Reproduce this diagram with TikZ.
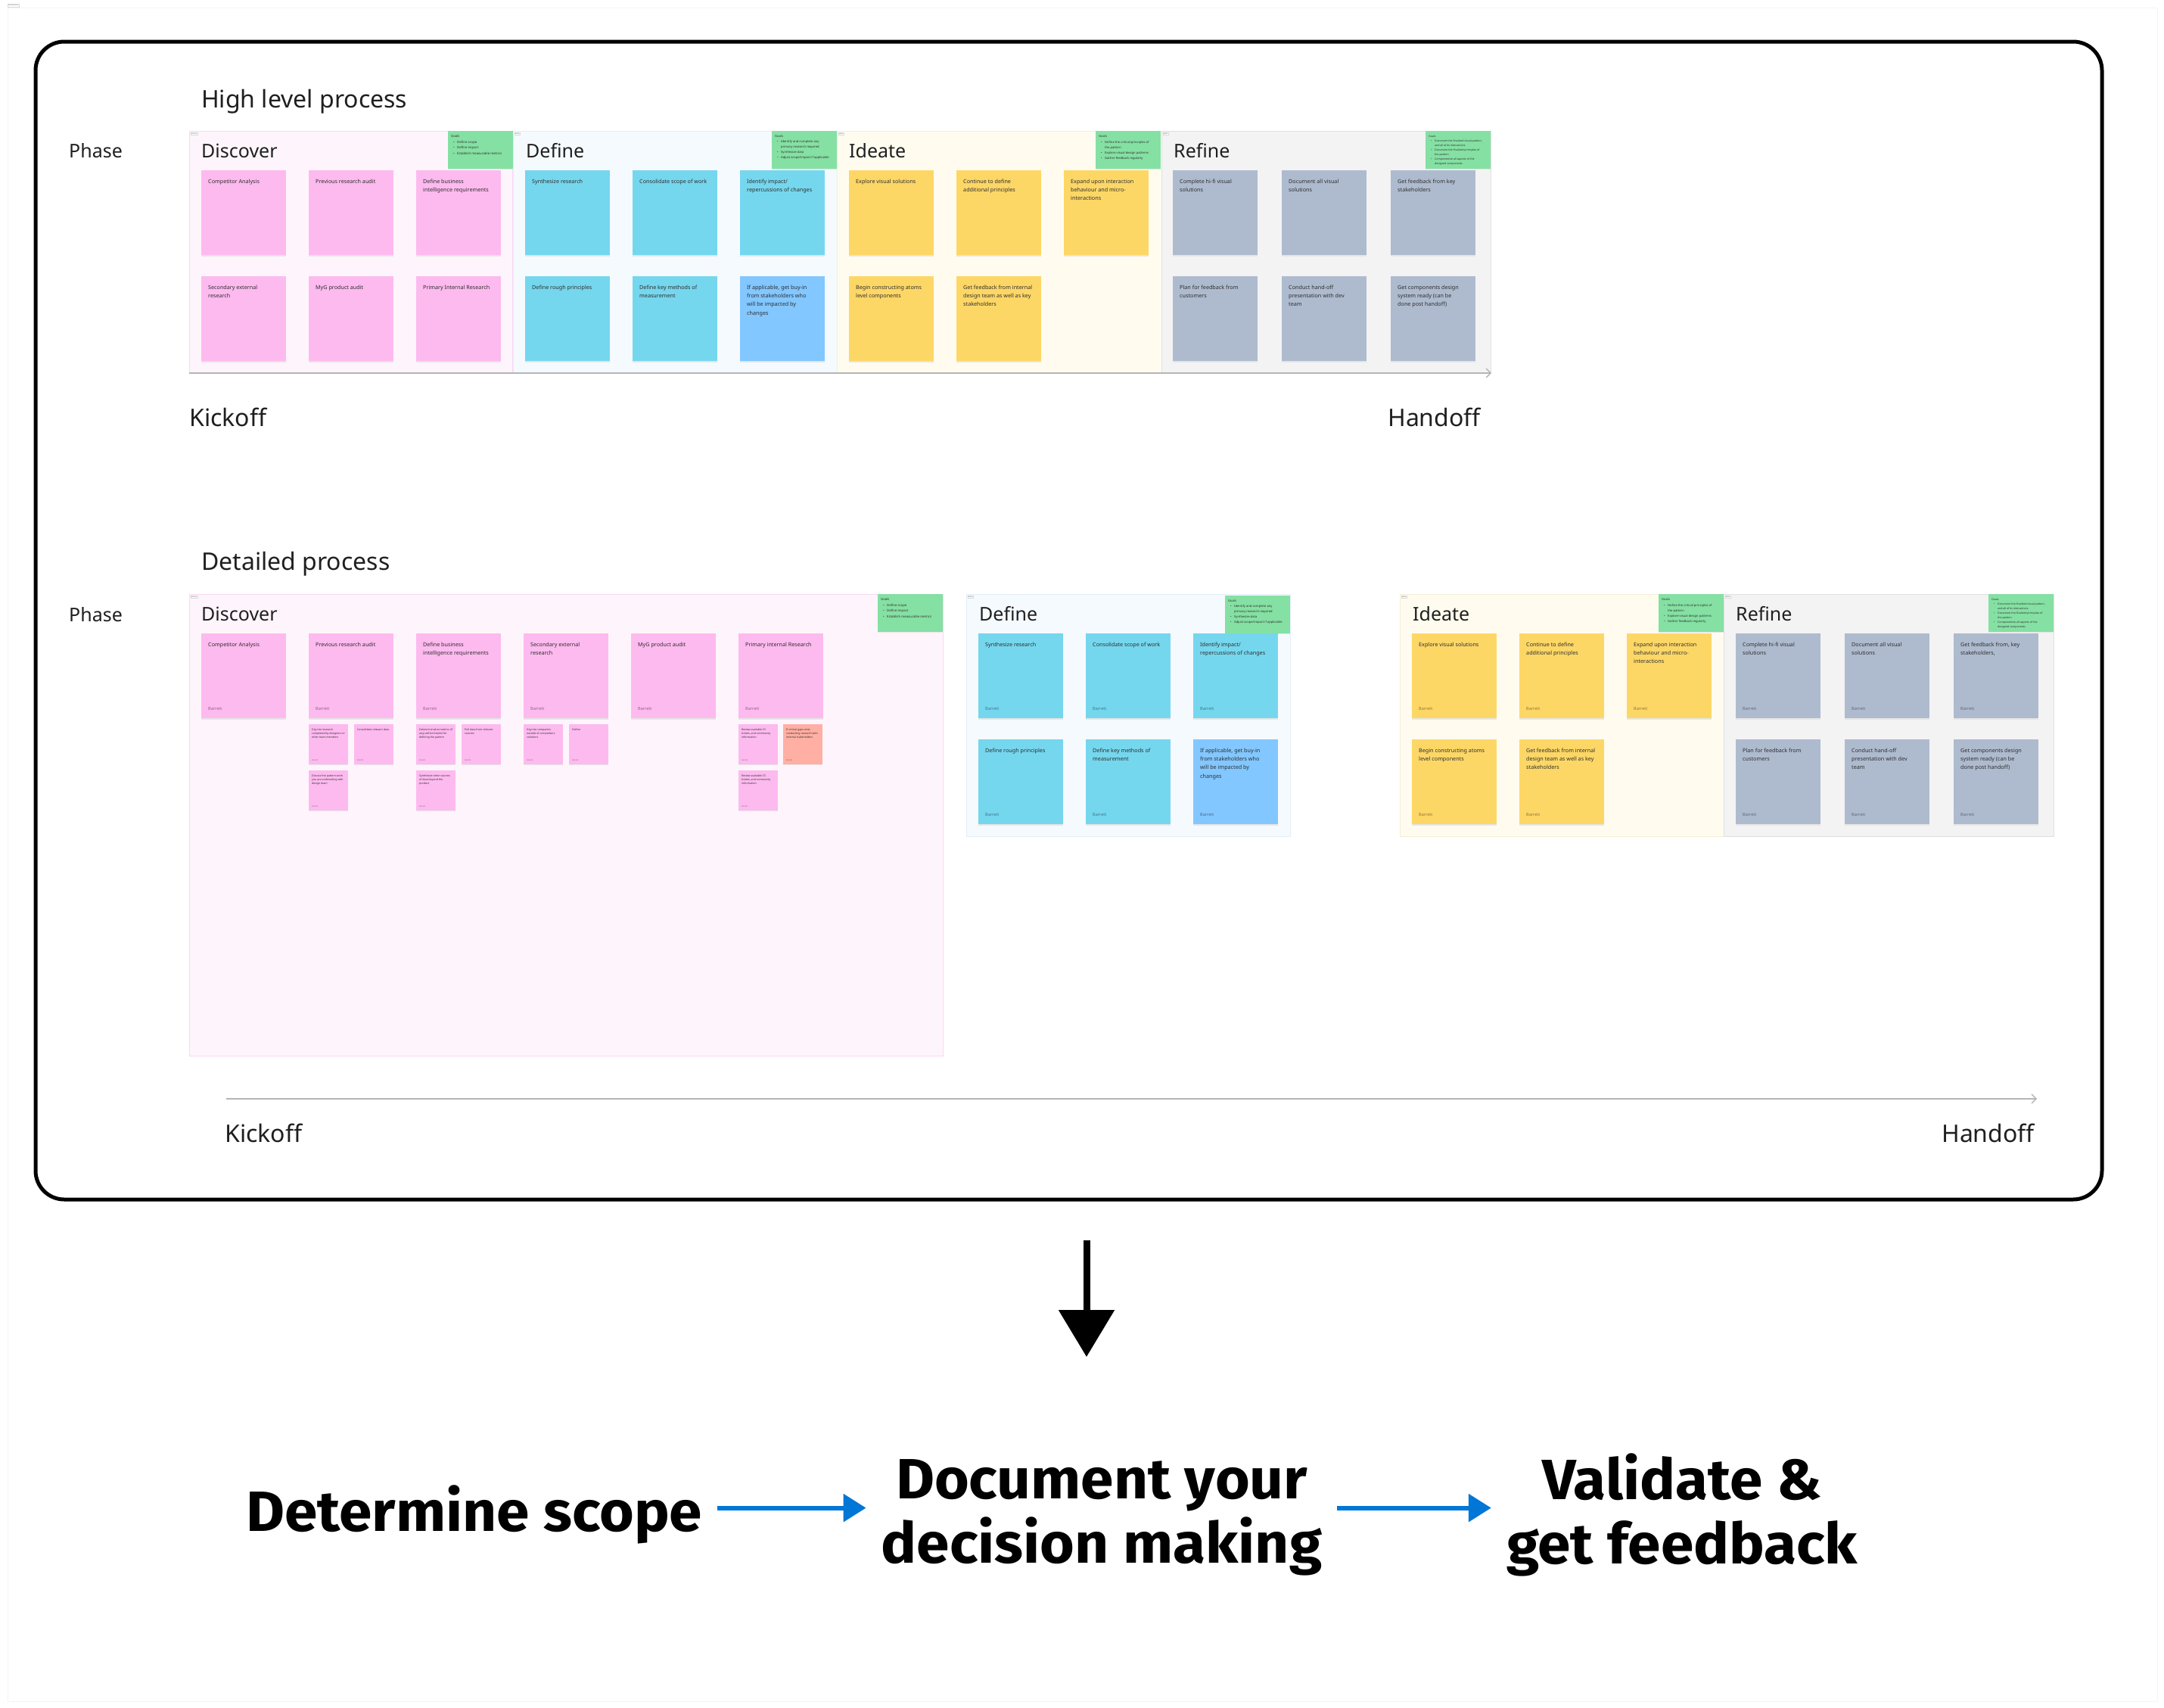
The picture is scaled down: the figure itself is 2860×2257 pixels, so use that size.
\documentclass[tikz,border=0pt]{standalone}
\usepackage{fontspec}
\setmainfont{Noto Sans}
\newfontfamily\flowfont[FakeStretch=1.045]{Fira Sans}
\usetikzlibrary{arrows.meta}

\definecolor{pinkbg}{HTML}{FEF5FC}
\definecolor{pinkline}{HTML}{F9D7F3}
\definecolor{bluebg}{HTML}{F5FAFE}
\definecolor{blueline}{HTML}{E3EEF8}
\definecolor{creambg}{HTML}{FFFCEF}
\definecolor{creamline}{HTML}{F4EFD8}
\definecolor{greybg}{HTML}{F3F3F3}
\definecolor{greyline}{HTML}{E0E0E0}
\definecolor{npink}{HTML}{FDBAEF}
\definecolor{nblue}{HTML}{75D7EE}
\definecolor{nsky}{HTML}{82C7FF}
\definecolor{nyellow}{HTML}{FDD766}
\definecolor{nslate}{HTML}{AEBBCF}
\definecolor{ngreen}{HTML}{85E0A3}
\definecolor{nsalmon}{HTML}{FFAFA3}
\definecolor{notetext}{HTML}{2E2E2E}
\definecolor{axisgrey}{HTML}{B5B5B5}
\definecolor{flowblue}{HTML}{0076D6}

\tikzset{
  stickbox/.style={rectangle, inner sep=0pt, minimum width=112pt, minimum height=112pt},
  minibox/.style={rectangle, inner sep=0pt, minimum width=52pt, minimum height=53pt},
  goalbox/.style={rectangle, inner sep=0pt, minimum width=86pt, minimum height=50pt, fill=ngreen},
  sticktext/.style={anchor=north west, inner sep=0pt, align=left, text=notetext, font=\fontsize{7.2}{11.3}\selectfont},
  minitext/.style={anchor=north west, inner sep=0pt, align=left, text=notetext, font=\fontsize{3.5}{5.3}\selectfont},
  signtext/.style={anchor=base west, inner sep=0pt, font=\fontsize{5.5}{6}\selectfont},
  minisign/.style={anchor=base west, inner sep=0pt, font=\fontsize{2.4}{3}\selectfont},
  goaltext/.style={anchor=north west, inner sep=0pt, align=left, text=notetext},
  phasetitle/.style={anchor=base west, inner sep=0pt, text=black!88, font=\fontsize{25}{30}\selectfont},
  sectiontitle/.style={anchor=base west, inner sep=0pt, text=black!88, font=\fontsize{32}{38}\selectfont},
  tab/.style={anchor=north west, fill=white, draw=black!15, line width=0.3pt, inner sep=0.8pt,
     text=black!60, font=\fontsize{1.8}{2}\selectfont},
  axis/.style={draw=axisgrey, line width=1.3pt, -{Straight Barb[length=6pt,width=12pt]}},
  flowtext/.style={inner sep=0pt, font=\flowfont\bfseries\fontsize{75}{85}\selectfont},
  flow/.style={draw=flowblue, line width=6pt, -{Triangle[length=30pt,width=36pt]}},
  downflow/.style={draw=black, line width=9pt, -{Triangle[length=62pt,width=72pt]}},
}

% sticky note: name, left, top, colour, text
\newcommand\bignote[5]{%
  \fill[black!10] (#2,#3+1.5) rectangle (#2+112,#3+113.5);
  \node[stickbox, fill=#4] (#1) at (#2+56,#3+56) {};
  \node[sticktext] (#1-txt) at (#2+9,#3+11.5) {#5};}
% author line at the foot of a sticky note
\newcommand\signed[4]{\node[signtext, text=#4!55!black] (#1-sig) at (#2+9,#3+101) {Barrett};}
% small sticky note: name, left, top, colour, text
\newcommand\smallnote[5]{%
  \fill[black!10] (#2,#3+1) rectangle (#2+52,#3+54);
  \node[minibox, fill=#4] (#1) at (#2+26,#3+26.5) {};
  \node[minitext] (#1-txt) at (#2+4,#3+5.5) {#5};
  \node[minisign, text=#4!55!black] (#1-sig) at (#2+4,#3+48) {Barrett};}
% goals card: name, left, top, font size, line skip, lines
\newcommand\goalnote[6]{%
  \fill[black!10] (#2,#3+1) rectangle (#2+86,#3+51);
  \node[goalbox] (#1) at (#2+43,#3+25) {};
  \node[goaltext, font=\fontsize{#4}{#5}\selectfont] (#1-txt) at (#2+4,#3+5.5) {\textbf{Goals}#6};}
\newcommand\gb{\\\hspace*{3pt}\makebox[5pt][l]{\textbullet}}
\newcommand\gc{\\\hspace*{8pt}}

\begin{document}
\begin{tikzpicture}[x=1pt,y=-1pt]
\useasboundingbox (0,0) rectangle (2860,2257);
\fill[white] (0,0) rectangle (2860,2257);

% canvas edge and its label
\draw[black!4, line width=0.8pt] (10,10) rectangle (2851,2248);
\node[tab, anchor=south west] (canvas-tab) at (10,9) {Overall process};

% outer frame
\draw[line width=5pt, rounded corners=38pt] (47,55) rectangle (2778,1585);

% ---------------- high level process ----------------
\node[sectiontitle] (hl-title) at (266,142) {High level process};
\node[phasetitle] (hl-phase) at (91,208) {Phase};

\filldraw[fill=pinkbg, draw=pinkline, line width=1pt] (250,173) rectangle (677,492);
\filldraw[fill=bluebg, draw=blueline, line width=1pt] (678,173) rectangle (1106,492);
\filldraw[fill=creambg, draw=creamline, line width=1pt] (1106,173) rectangle (1535,492);
\filldraw[fill=greybg, draw=greyline, line width=1pt] (1535,173) rectangle (1970,492);

\node[tab] (hl-dis-tab) at (252,175) {Discover};
\node[tab] (hl-def-tab) at (680,175) {Define};
\node[tab] (hl-ide-tab) at (1108,175) {Ideate};
\node[tab] (hl-ref-tab) at (1537,175) {Refine};

\node[phasetitle] (hl-dis) at (266,208) {Discover};
\node[phasetitle] (hl-def) at (695,208) {Define};
\node[phasetitle] (hl-ide) at (1122,208) {Ideate};
\node[phasetitle] (hl-ref) at (1551,208) {Refine};

\goalnote{hl-dis-goals}{592}{173}{4.3}{7.4}{\gb Define scope\gb Define impact\gb Establish measurable metrics}
\goalnote{hl-def-goals}{1020}{173}{4.1}{6.9}{\gb Identify and complete any\gc primary research required\gb Synthesize data\gb Adjust scope/impact if applicable}
\goalnote{hl-ide-goals}{1448}{173}{4.1}{7.2}{\gb Define the critical principles of\gc the pattern\gb Explore visual design patterns\gb Gather feedback regularly}
\goalnote{hl-ref-goals}{1884}{173}{3.5}{6.0}{\gb Document the finalized visual pattern,\gc and all of its interactions\gb Document the finalized principles of\gc the pattern\gb Componentize all aspects of the\gc designed components}

\bignote{hd1}{266}{225}{npink}{Competitor Analysis}
\bignote{hd2}{408}{225}{npink}{Previous research audit}
\bignote{hd3}{550}{225}{npink}{Define business\\intelligence requirements}
\bignote{hd4}{266}{365}{npink}{Secondary external\\research}
\bignote{hd5}{408}{365}{npink}{MyG product audit}
\bignote{hd6}{550}{365}{npink}{Primary Internal Research}

\bignote{hf1}{694}{225}{nblue}{Synthesize research}
\bignote{hf2}{836}{225}{nblue}{Consolidate scope of work}
\bignote{hf3}{978}{225}{nblue}{Identify impact/\\repercussions of changes}
\bignote{hf4}{694}{365}{nblue}{Define rough principles}
\bignote{hf5}{836}{365}{nblue}{Define key methods of\\measurement}
\bignote{hf6}{978}{365}{nsky}{If applicable, get buy-in\\from stakeholders who\\will be impacted by\\changes}

\bignote{hi1}{1122}{225}{nyellow}{Explore visual solutions}
\bignote{hi2}{1264}{225}{nyellow}{Continue to define\\additional principles}
\bignote{hi3}{1406}{225}{nyellow}{Expand upon interaction\\behaviour and micro-\\interactions}
\bignote{hi4}{1122}{365}{nyellow}{Begin constructing atoms\\level components}
\bignote{hi5}{1264}{365}{nyellow}{Get feedback from internal\\design team as well as key\\stakeholders}

\bignote{hr1}{1550}{225}{nslate}{Complete hi-fi visual\\solutions}
\bignote{hr2}{1694}{225}{nslate}{Document all visual\\solutions}
\bignote{hr3}{1838}{225}{nslate}{Get feedback from key\\stakeholders}
\bignote{hr4}{1550}{365}{nslate}{Plan for feedback from\\customers}
\bignote{hr5}{1694}{365}{nslate}{Conduct hand-off\\presentation with dev\\team}
\bignote{hr6}{1838}{365}{nslate}{Get components design\\system ready (can be\\done post handoff)}

\coordinate (hl-start) at (250,493);
\coordinate (hl-end) at (1971,493);
\draw[axis] (hl-start) -- (hl-end);
\node[sectiontitle] (hl-kick) at (250,563) {Kickoff};
\node[sectiontitle, anchor=base east] (hl-hand) at (1957,563) {Handoff};

% ---------------- detailed process ----------------
\node[sectiontitle] (dt-title) at (266,753) {Detailed process};
\node[phasetitle] (dt-phase) at (91,821) {Phase};

\filldraw[fill=pinkbg, draw=pinkline, line width=1pt] (250,785) rectangle (1246,1395);
\filldraw[fill=bluebg, draw=blueline, line width=1pt] (1277,785) rectangle (1705,1105);
\filldraw[fill=creambg, draw=creamline, line width=1pt] (1850,785) rectangle (2278,1105);
\filldraw[fill=greybg, draw=greyline, line width=1pt] (2278,785) rectangle (2714,1105);

\node[tab] (dt-dis-tab) at (252,787) {Discover};
\node[tab] (dt-def-tab) at (1279,787) {Define};
\node[tab] (dt-ide-tab) at (1852,787) {Ideate};
\node[tab] (dt-ref-tab) at (2280,787) {Refine};

\node[phasetitle] (dt-dis) at (266,820) {Discover};
\node[phasetitle] (dt-def) at (1294,820) {Define};
\node[phasetitle] (dt-ide) at (1867,820) {Ideate};
\node[phasetitle] (dt-ref) at (2294,820) {Refine};

\goalnote{dt-dis-goals}{1160}{785}{4.3}{7.4}{\gb Define scope\gb Define impact\gb Establish measurable metrics}
\goalnote{dt-def-goals}{1619}{787}{4.1}{6.9}{\gb Identify and complete any\gc primary research required\gb Synthesize data\gb Adjust scope/impact if applicable}
\goalnote{dt-ide-goals}{2192}{785}{4.1}{7.2}{\gb Define the critical principles of\gc the pattern\gb Explore visual design patterns\gb Gather feedback regularly}
\goalnote{dt-ref-goals}{2628}{785}{3.5}{6.0}{\gb Document the finalized visual pattern,\gc and all of its interactions\gb Document the finalized principles of\gc the pattern\gb Componentize all aspects of the\gc designed components}

\bignote{dd1}{266}{837}{npink}{Competitor Analysis}\signed{dd1}{266}{837}{npink}
\bignote{dd2}{408}{837}{npink}{Previous research audit}\signed{dd2}{408}{837}{npink}
\bignote{dd3}{550}{837}{npink}{Define business\\intelligence requirements}\signed{dd3}{550}{837}{npink}
\bignote{dd4}{692}{837}{npink}{Secondary external\\research}\signed{dd4}{692}{837}{npink}
\bignote{dd5}{834}{837}{npink}{MyG product audit}\signed{dd5}{834}{837}{npink}
\bignote{dd6}{976}{837}{npink}{Primary internal Research}\signed{dd6}{976}{837}{npink}

\smallnote{ds1}{408}{957}{npink}{Dig into research\\completed by designers or\\other team members}
\smallnote{ds2}{468}{957}{npink}{Consolidate relevant data}
\smallnote{ds3}{408}{1018}{npink}{Discuss the pattern work\\you are undertaking with\\design team}
\smallnote{ds4}{550}{957}{npink}{Determine what metrics (if\\any) will be helpful for\\defining the pattern}
\smallnote{ds5}{610}{957}{npink}{Pull data from relevant\\sources}
\smallnote{ds6}{550}{1018}{npink}{Synthesize other sources\\of data beyond the\\product}
\smallnote{ds7}{692}{957}{npink}{Dig into companies\\outside of competitors\\solutions}
\smallnote{ds8}{752}{957}{npink}{Define}
\smallnote{ds9}{976}{957}{npink}{Review available CS\\tickets, and community\\information}
\smallnote{ds10}{1035}{957}{nsalmon}{If critical gaps exist,\\conducting research with\\internal stakeholders}
\smallnote{ds11}{976}{1018}{npink}{Review available CS\\tickets, and community\\information}

\bignote{df1}{1293}{837}{nblue}{Synthesize research}\signed{df1}{1293}{837}{nblue}
\bignote{df2}{1435}{837}{nblue}{Consolidate scope of work}\signed{df2}{1435}{837}{nblue}
\bignote{df3}{1577}{837}{nblue}{Identify impact/\\repercussions of changes}\signed{df3}{1577}{837}{nblue}
\bignote{df4}{1293}{977}{nblue}{Define rough principles}\signed{df4}{1293}{977}{nblue}
\bignote{df5}{1435}{977}{nblue}{Define key methods of\\measurement}\signed{df5}{1435}{977}{nblue}
\bignote{df6}{1577}{977}{nsky}{If applicable, get buy-in\\from stakeholders who\\will be impacted by\\changes}\signed{df6}{1577}{977}{nsky}

\bignote{di1}{1866}{837}{nyellow}{Explore visual solutions}\signed{di1}{1866}{837}{nyellow}
\bignote{di2}{2008}{837}{nyellow}{Continue to define\\additional principles}\signed{di2}{2008}{837}{nyellow}
\bignote{di3}{2150}{837}{nyellow}{Expand upon interaction\\behaviour and micro-\\interactions}\signed{di3}{2150}{837}{nyellow}
\bignote{di4}{1866}{977}{nyellow}{Begin constructing atoms\\level components}\signed{di4}{1866}{977}{nyellow}
\bignote{di5}{2008}{977}{nyellow}{Get feedback from internal\\design team as well as key\\stakeholders}\signed{di5}{2008}{977}{nyellow}

\bignote{dr1}{2294}{837}{nslate}{Complete hi-fi visual\\solutions}\signed{dr1}{2294}{837}{nslate}
\bignote{dr2}{2438}{837}{nslate}{Document all visual\\solutions}\signed{dr2}{2438}{837}{nslate}
\bignote{dr3}{2582}{837}{nslate}{Get feedback from, key\\stakeholders,}\signed{dr3}{2582}{837}{nslate}
\bignote{dr4}{2294}{977}{nslate}{Plan for feedback from\\customers}\signed{dr4}{2294}{977}{nslate}
\bignote{dr5}{2438}{977}{nslate}{Conduct hand-off\\presentation with dev\\team}\signed{dr5}{2438}{977}{nslate}
\bignote{dr6}{2582}{977}{nslate}{Get components design\\system ready (can be\\done post handoff)}\signed{dr6}{2582}{977}{nslate}

\coordinate (dt-start) at (299,1452);
\coordinate (dt-end) at (2692,1452);
\draw[axis] (dt-start) -- (dt-end);
\node[sectiontitle] (dt-kick) at (297,1509) {Kickoff};
\node[sectiontitle, anchor=base east] (dt-hand) at (2689,1509) {Handoff};

% ---------------- summary flow ----------------
\coordinate (drop-top) at (1436,1639);
\coordinate (drop-tip) at (1436,1793);
\draw[downflow] (drop-top) -- (drop-tip);

\node[flowtext, anchor=base west, text depth=0pt] (scope) at (325,2023) {Determine scope};
\node[flowtext, align=center, anchor=north] (doc) at (1456,1928) {Document your\\decision making};
\node[flowtext, align=center, anchor=north] (valid) at (2223,1920) {Validate \&\\get feedback};

\draw[flow] ([xshift=20pt]scope.east) -- ([xshift=-20pt]doc.west |- scope.east);
\draw[flow] ([xshift=20pt]doc.east |- scope.east) -- ([xshift=-20pt]valid.west |- scope.east);
\end{tikzpicture}
\end{document}
